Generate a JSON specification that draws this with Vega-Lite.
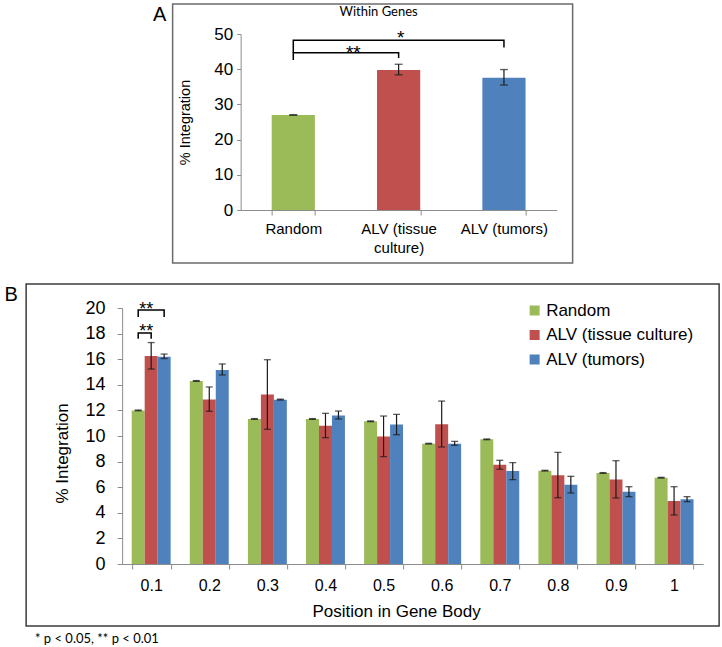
{
  "$schema": "https://vega.github.io/schema/vega-lite/v6.json",
  "padding": {"left": 3, "top": 3, "right": 3, "bottom": 3},
  "config": {
    "font": "Liberation Sans",
    "axis": {"grid": false, "domainColor": "#8c8c8c", "tickColor": "#8c8c8c", "labelColor": "#000000", "titleColor": "#000000", "labelFont": "Liberation Sans", "titleFont": "Liberation Sans", "titleFontWeight": "normal", "labelOverlap": false},
    "axisY": {"labelOverlap": false},
    "axisQuantitative": {"labelOverlap": false}
  },
  "resolve": {"scale": {"color": "independent"}, "legend": {"color": "independent"}},
  "datasets": {
    "a_bars": [
      {"group": "Random", "value": 27.0, "lo": 26.92, "hi": 27.08},
      {"group": "ALV (tissue culture)", "value": 39.8, "lo": 38.4, "hi": 41.4},
      {"group": "ALV (tumors)", "value": 37.6, "lo": 35.5, "hi": 39.9}
    ],
    "a_brackets": [
      {"group": "Random", "y": 42.6, "br": "inner", "ord": 1},
      {"group": "Random", "y": 44.7, "br": "inner", "ord": 2},
      {"group": "ALV (tissue culture)", "y": 44.7, "br": "inner", "ord": 3},
      {"group": "ALV (tissue culture)", "y": 43.2, "br": "inner", "ord": 4},
      {"group": "Random", "y": 44.7, "br": "outer", "ord": 1},
      {"group": "Random", "y": 48.2, "br": "outer", "ord": 2},
      {"group": "ALV (tumors)", "y": 48.2, "br": "outer", "ord": 3},
      {"group": "ALV (tumors)", "y": 46.2, "br": "outer", "ord": 4}
    ],
    "a_stars": [
      {"group": "Random", "y": 42.8, "label": "**"},
      {"group": "ALV (tissue culture)", "y": 47.1, "label": "*"}
    ],
    "a_heading": [
      {"group": "ALV (tissue culture)", "y": 56.2, "label": "Within Genes"}
    ],
    "b_bars": [
      {"pos": "0.1", "series": "Random", "value": 12.0, "lo": 11.97, "hi": 12.03},
      {"pos": "0.1", "series": "ALV (tissue culture)", "value": 16.25, "lo": 15.23, "hi": 17.3},
      {"pos": "0.1", "series": "ALV (tumors)", "value": 16.2, "lo": 16.05, "hi": 16.4},
      {"pos": "0.2", "series": "Random", "value": 14.3, "lo": 14.27, "hi": 14.33},
      {"pos": "0.2", "series": "ALV (tissue culture)", "value": 12.86, "lo": 11.93, "hi": 13.83},
      {"pos": "0.2", "series": "ALV (tumors)", "value": 15.16, "lo": 14.77, "hi": 15.63},
      {"pos": "0.3", "series": "Random", "value": 11.33, "lo": 11.3, "hi": 11.36},
      {"pos": "0.3", "series": "ALV (tissue culture)", "value": 13.25, "lo": 10.52, "hi": 15.96},
      {"pos": "0.3", "series": "ALV (tumors)", "value": 12.84, "lo": 12.81, "hi": 12.87},
      {"pos": "0.4", "series": "Random", "value": 11.33, "lo": 11.3, "hi": 11.36},
      {"pos": "0.4", "series": "ALV (tissue culture)", "value": 10.81, "lo": 9.87, "hi": 11.77},
      {"pos": "0.4", "series": "ALV (tumors)", "value": 11.61, "lo": 11.33, "hi": 11.95},
      {"pos": "0.5", "series": "Random", "value": 11.15, "lo": 11.12, "hi": 11.18},
      {"pos": "0.5", "series": "ALV (tissue culture)", "value": 9.97, "lo": 8.39, "hi": 11.56},
      {"pos": "0.5", "series": "ALV (tumors)", "value": 10.89, "lo": 10.1, "hi": 11.69},
      {"pos": "0.6", "series": "Random", "value": 9.4, "lo": 9.37, "hi": 9.43},
      {"pos": "0.6", "series": "ALV (tissue culture)", "value": 10.91, "lo": 9.14, "hi": 12.73},
      {"pos": "0.6", "series": "ALV (tumors)", "value": 9.4, "lo": 9.27, "hi": 9.58},
      {"pos": "0.7", "series": "Random", "value": 9.74, "lo": 9.71, "hi": 9.77},
      {"pos": "0.7", "series": "ALV (tissue culture)", "value": 7.76, "lo": 7.4, "hi": 8.1},
      {"pos": "0.7", "series": "ALV (tumors)", "value": 7.27, "lo": 6.59, "hi": 7.92},
      {"pos": "0.8", "series": "Random", "value": 7.29, "lo": 7.26, "hi": 7.32},
      {"pos": "0.8", "series": "ALV (tissue culture)", "value": 6.93, "lo": 5.18, "hi": 8.72},
      {"pos": "0.8", "series": "ALV (tumors)", "value": 6.2, "lo": 5.55, "hi": 6.85},
      {"pos": "0.9", "series": "Random", "value": 7.11, "lo": 7.08, "hi": 7.14},
      {"pos": "0.9", "series": "ALV (tissue culture)", "value": 6.61, "lo": 5.16, "hi": 8.07},
      {"pos": "0.9", "series": "ALV (tumors)", "value": 5.65, "lo": 5.26, "hi": 6.04},
      {"pos": "1", "series": "Random", "value": 6.74, "lo": 6.71, "hi": 6.77},
      {"pos": "1", "series": "ALV (tissue culture)", "value": 4.92, "lo": 3.83, "hi": 6.04},
      {"pos": "1", "series": "ALV (tumors)", "value": 5.05, "lo": 4.87, "hi": 5.26}
    ],
    "b_brackets": [
      {"pos": "0.1", "series": "Random", "y": 17.6, "br": "inner", "ord": 1},
      {"pos": "0.1", "series": "Random", "y": 18.05, "br": "inner", "ord": 2},
      {"pos": "0.1", "series": "ALV (tissue culture)", "y": 18.05, "br": "inner", "ord": 3},
      {"pos": "0.1", "series": "ALV (tissue culture)", "y": 17.6, "br": "inner", "ord": 4},
      {"pos": "0.1", "series": "Random", "y": 19.3, "br": "outer", "ord": 1},
      {"pos": "0.1", "series": "Random", "y": 19.84, "br": "outer", "ord": 2},
      {"pos": "0.1", "series": "ALV (tumors)", "y": 19.84, "br": "outer", "ord": 3},
      {"pos": "0.1", "series": "ALV (tumors)", "y": 19.3, "br": "outer", "ord": 4}
    ],
    "b_stars": [
      {"pos": "0.1", "series": "Random", "y": 17.7, "label": "**"},
      {"pos": "0.1", "series": "Random", "y": 19.46, "label": "**"}
    ]
  },
  "vconcat": [
    {
      "width": 400,
      "height": 259,
      "view": {"stroke": "#6b6b6b", "strokeWidth": 1.5},
      "title": {"text": "A", "orient": "left", "anchor": "end", "angle": 0, "frame": "group", "align": "right", "baseline": "top", "font": "Liberation Sans", "fontSize": 20, "fontWeight": "normal", "offset": -7, "dy": 1},
      "layer": [
        {
          "data": {"name": "a_bars"},
          "mark": {"type": "bar"},
          "encoding": {
            "x": {"field": "group", "type": "nominal", "sort": null,
              "scale": {"domain": ["Random", "ALV (tissue culture)", "ALV (tumors)"], "range": [68, 384], "paddingInner": 0.59, "paddingOuter": 0.295},
              "axis": {"orient": "bottom", "offset": -53, "title": null, "tickBand": "extent", "tickSize": 5, "labelPadding": 6, "labelAngle": 0, "labelFontSize": 15, "labelLineHeight": 19, "labelBaseline": "top", "labelOverlap": false,
                "labelExpr": "datum.value == 'ALV (tissue culture)' ? ['ALV (tissue', 'culture)'] : datum.value"}},
            "y": {"field": "value", "type": "quantitative",
              "scale": {"domain": [0, 50], "range": [206, 30], "nice": false, "zero": true},
              "axis": {"orient": "left", "offset": -68, "values": [0, 10, 20, 30, 40, 50], "tickSize": 4, "labelPadding": 4, "labelFontSize": 17, "labelOverlap": false, "title": "% Integration", "titleFontSize": 14.5, "titlePadding": 21}},
            "color": {"field": "group", "type": "nominal", "scale": {"domain": ["Random", "ALV (tissue culture)", "ALV (tumors)"], "range": ["#9BBB59", "#C0504D", "#4F81BD"]}, "legend": null}
          }
        },
        {
          "data": {"name": "a_bars"},
          "mark": {"type": "rule", "color": "#1a1a1a", "strokeWidth": 1.2},
          "encoding": {
            "x": {"field": "group", "type": "nominal"},
            "y": {"field": "lo", "type": "quantitative"},
            "y2": {"field": "hi"}
          }
        },
        {
          "data": {"name": "a_bars"},
          "mark": {"type": "tick", "orient": "horizontal", "color": "#1a1a1a", "size": 8, "thickness": 1.3},
          "encoding": {
            "x": {"field": "group", "type": "nominal"},
            "y": {"field": "lo", "type": "quantitative"}
          }
        },
        {
          "data": {"name": "a_bars"},
          "mark": {"type": "tick", "orient": "horizontal", "color": "#1a1a1a", "size": 8, "thickness": 1.3},
          "encoding": {
            "x": {"field": "group", "type": "nominal"},
            "y": {"field": "hi", "type": "quantitative"}
          }
        },
        {
          "data": {"name": "a_brackets"},
          "mark": {"type": "line", "color": "#000000", "strokeWidth": 1.5},
          "encoding": {
            "x": {"field": "group", "type": "nominal"},
            "y": {"field": "y", "type": "quantitative"},
            "detail": {"field": "br"},
            "order": {"field": "ord", "type": "quantitative"}
          }
        },
        {
          "data": {"name": "a_stars"},
          "transform": [{"filter": "datum.label == '**'"}],
          "mark": {"type": "text", "fontSize": 19, "baseline": "alphabetic", "dx": 60, "font": "Liberation Sans"},
          "encoding": {
            "x": {"field": "group", "type": "nominal"},
            "y": {"field": "y", "type": "quantitative"},
            "text": {"field": "label"}
          }
        },
        {
          "data": {"name": "a_stars"},
          "transform": [{"filter": "datum.label == '*'"}],
          "mark": {"type": "text", "fontSize": 19, "baseline": "alphabetic", "dx": 2, "font": "Liberation Sans"},
          "encoding": {
            "x": {"field": "group", "type": "nominal"},
            "y": {"field": "y", "type": "quantitative"},
            "text": {"field": "label"}
          }
        },
        {
          "data": {"name": "a_heading"},
          "mark": {"type": "text", "fontSize": 13, "baseline": "middle", "dx": -20, "font": "Lato"},
          "encoding": {
            "x": {"field": "group", "type": "nominal"},
            "y": {"field": "y", "type": "quantitative"},
            "text": {"field": "label"}
          }
        }
      ]
    },
    {
      "width": 693,
      "height": 342,
      "view": {"stroke": "#3c3c3c", "strokeWidth": 1.5},
      "title": {"text": "B", "orient": "left", "anchor": "end", "angle": 0, "frame": "group", "align": "right", "baseline": "top", "font": "Liberation Sans", "fontSize": 20, "fontWeight": "normal", "offset": -5, "dy": 1},
      "layer": [
        {
          "data": {"name": "b_bars"},
          "mark": {"type": "bar"},
          "encoding": {
            "x": {"field": "pos", "type": "nominal", "sort": null,
              "scale": {"domain": ["0.1", "0.2", "0.3", "0.4", "0.5", "0.6", "0.7", "0.8", "0.9", "1"], "range": [96, 677], "paddingInner": 0.33, "paddingOuter": 0.165},
              "axis": {"orient": "bottom", "offset": -62, "tickBand": "extent", "tickSize": 5, "labelPadding": 8, "labelAngle": 0, "labelFontSize": 16, "labelBaseline": "top", "labelOverlap": false, "title": "Position in Gene Body", "titleFontSize": 17, "titlePadding": 10, "titleX": 370}},
            "xOffset": {"field": "series", "type": "nominal", "sort": null, "scale": {"domain": ["Random", "ALV (tissue culture)", "ALV (tumors)"], "paddingInner": 0, "paddingOuter": 0}},
            "y": {"field": "value", "type": "quantitative",
              "scale": {"domain": [0, 20], "range": [280, 24], "nice": false, "zero": true},
              "axis": {"orient": "left", "offset": -96, "tickCount": 10, "tickSize": 5, "labelPadding": 12, "labelFontSize": 18, "labelOverlap": false, "labelBound": false, "title": "% Integration", "titleFontSize": 17, "titlePadding": 14, "titleY": 169}},
            "color": {"field": "series", "type": "nominal", "scale": {"domain": ["Random", "ALV (tissue culture)", "ALV (tumors)"], "range": ["#9BBB59", "#C0504D", "#4F81BD"]},
              "legend": {"orient": "none", "legendX": 500, "legendY": 18, "title": null, "labelFont": "Liberation Sans", "labelFontSize": 17, "labelColor": "#000000", "symbolType": "square", "symbolSize": 100, "symbolStrokeWidth": 0, "labelOffset": 3, "rowPadding": 6.5}}
          }
        },
        {
          "data": {"name": "b_bars"},
          "mark": {"type": "rule", "color": "#1a1a1a", "strokeWidth": 1.2},
          "encoding": {
            "x": {"field": "pos", "type": "nominal"},
            "xOffset": {"field": "series", "type": "nominal"},
            "y": {"field": "lo", "type": "quantitative"},
            "y2": {"field": "hi"}
          }
        },
        {
          "data": {"name": "b_bars"},
          "mark": {"type": "tick", "orient": "horizontal", "color": "#1a1a1a", "size": 7, "thickness": 1.3},
          "encoding": {
            "x": {"field": "pos", "type": "nominal"},
            "xOffset": {"field": "series", "type": "nominal"},
            "y": {"field": "lo", "type": "quantitative"}
          }
        },
        {
          "data": {"name": "b_bars"},
          "mark": {"type": "tick", "orient": "horizontal", "color": "#1a1a1a", "size": 7, "thickness": 1.3},
          "encoding": {
            "x": {"field": "pos", "type": "nominal"},
            "xOffset": {"field": "series", "type": "nominal"},
            "y": {"field": "hi", "type": "quantitative"}
          }
        },
        {
          "data": {"name": "b_brackets"},
          "mark": {"type": "line", "color": "#000000", "strokeWidth": 1.5},
          "encoding": {
            "x": {"field": "pos", "type": "nominal"},
            "xOffset": {"field": "series", "type": "nominal"},
            "y": {"field": "y", "type": "quantitative"},
            "detail": {"field": "br"},
            "order": {"field": "ord", "type": "quantitative"}
          }
        },
        {
          "data": {"name": "b_stars"},
          "mark": {"type": "text", "fontSize": 18, "baseline": "alphabetic", "dx": 8, "font": "Liberation Sans"},
          "encoding": {
            "x": {"field": "pos", "type": "nominal"},
            "xOffset": {"field": "series", "type": "nominal"},
            "y": {"field": "y", "type": "quantitative"},
            "text": {"field": "label"}
          }
        }
      ]
    }
  ],
  "spacing": 19,
  "center": true,
  "title": {"text": "* p < 0.05, ** p < 0.01", "orient": "bottom", "anchor": "start", "frame": "group", "font": "Lato", "fontSize": 13, "fontWeight": "normal", "offset": 6, "dx": 9, "baseline": "top"}
}
